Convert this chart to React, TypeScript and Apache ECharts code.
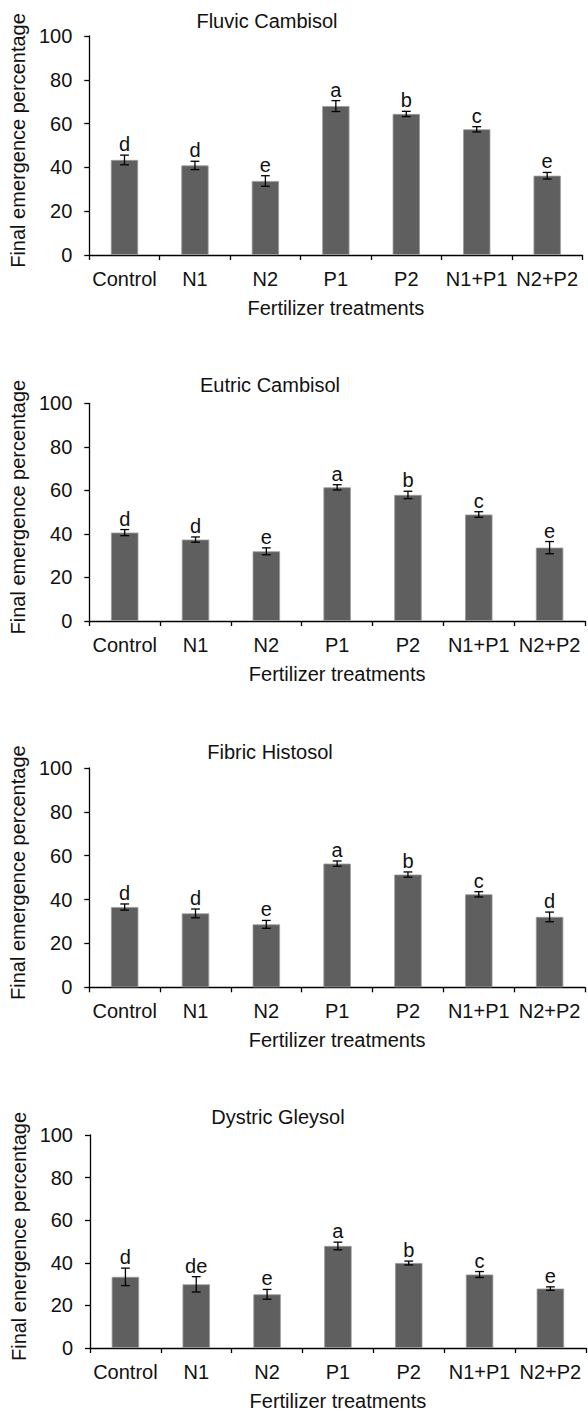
import React, { useEffect, useRef } from "react";
import * as echarts from "echarts";

const categories = ["Control", "N1", "N2", "P1", "P2", "N1+P1", "N2+P2"];
const panelTitles = ["Fluvic Cambisol", "Eutric Cambisol", "Fibric Histosol", "Dystric Gleysol"];
const yAxisNames = [
  "Final emergence percentage",
  "Final emergence percentage",
  "Final emergence percentage",
  "Final energence percentage",
];
const xAxisName = "Fertilizer treatments";
const yMin = 0;
const yMax = 100;
const yInterval = 20;

const fluvicMeans = [43.4, 40.9, 33.8, 68.0, 64.4, 57.4, 36.2];
const fluvicErrors = [2.2, 1.9, 2.4, 2.5, 1.2, 1.2, 1.5];
const fluvicLetters = ["d", "d", "e", "a", "b", "c", "e"];

const eutricMeans = [40.6, 37.4, 32.0, 61.4, 57.9, 48.9, 33.7];
const eutricErrors = [1.4, 1.2, 1.6, 1.2, 1.7, 1.3, 2.8];
const eutricLetters = ["d", "d", "e", "a", "b", "c", "e"];

const fibricMeans = [36.6, 33.7, 28.7, 56.4, 51.4, 42.4, 32.1];
const fibricErrors = [1.4, 2.0, 1.8, 1.2, 1.2, 1.2, 2.2];
const fibricLetters = ["d", "d", "e", "a", "b", "c", "d"];

const dystricMeans = [33.4, 29.9, 25.2, 47.9, 39.9, 34.5, 27.9];
const dystricErrors = [4.1, 3.6, 2.3, 1.8, 0.9, 1.4, 0.8];
const dystricLetters = ["d", "de", "e", "a", "b", "c", "e"];

const panels = [
  { means: fluvicMeans, errors: fluvicErrors, letters: fluvicLetters },
  { means: eutricMeans, errors: eutricErrors, letters: eutricLetters },
  { means: fibricMeans, errors: fibricErrors, letters: fibricLetters },
  { means: dystricMeans, errors: dystricErrors, letters: dystricLetters },
];

// layout (pixels)
const grids = [
  { left: 87.4, right: 5.6, top: 36, height: 219 },
  { left: 89.3, right: 3, top: 403.3, height: 217.7 },
  { left: 88.1, right: 3, top: 768, height: 219.3 },
  { left: 90, right: 2.2, top: 1135, height: 217.3 },
];
const titlePos = [
  { x: 267, y: 20.7 },
  { x: 270, y: 385 },
  { x: 270, y: 751.7 },
  { x: 278, y: 1116.7 },
];

const FONT = '"Liberation Sans", Arial, sans-serif';
const FS = 20;
const TEXT = "#111";
const BAR = "#5f5f5f";

export default function App() {
  const ref = useRef<HTMLDivElement>(null);

  useEffect(() => {
    if (!ref.current) return;
    const chart = echarts.init(ref.current, null, { renderer: "svg" });

    const xAxes: any[] = [];
    const yAxes: any[] = [];
    const series: any[] = [];

    panels.forEach((p, i) => {
      xAxes.push({
        gridIndex: i,
        type: "category",
        data: categories,
        boundaryGap: true,
        name: xAxisName,
        nameLocation: "middle",
        nameGap: 43,
        nameTextStyle: { fontFamily: FONT, fontSize: FS, color: TEXT },
        axisLine: { lineStyle: { color: "#000", width: 1.3 } },
        axisTick: { show: true, length: 5, lineStyle: { color: "#000", width: 1.3 } },
        axisLabel: { fontFamily: FONT, fontSize: FS, color: TEXT, margin: 14, interval: 0 },
        splitLine: { show: false },
      });
      yAxes.push({
        gridIndex: i,
        type: "value",
        min: yMin,
        max: yMax,
        interval: yInterval,
        name: yAxisNames[i],
        nameLocation: "middle",
        nameGap: 50,
        nameTextStyle: { fontFamily: FONT, fontSize: FS, color: TEXT, padding: [0, 0, 0, 10] },
        axisLine: { show: true, lineStyle: { color: "#000", width: 1.3 } },
        axisTick: { show: true, length: 5, lineStyle: { color: "#000", width: 1.3 } },
        axisLabel: { fontFamily: FONT, fontSize: FS, color: TEXT, margin: 17 },
        splitLine: { show: false },
      });
      series.push({
        type: "bar",
        xAxisIndex: i,
        yAxisIndex: i,
        data: p.means,
        barWidth: "38.7%",
        itemStyle: { color: BAR, borderColor: "#9a9a9a", borderWidth: 0.8 },
        silent: true,
      });
      const letters = p.letters;
      series.push({
        type: "custom",
        xAxisIndex: i,
        yAxisIndex: i,
        data: p.means.map((m, k) => [k, m, p.errors[k]]),
        renderItem: (params: any, api: any) => {
          const x = api.value(0);
          const m = api.value(1);
          const e = api.value(2);
          const top = api.coord([x, m + e]);
          const bot = api.coord([x, m - e]);
          const hw = 4.4;
          const ls = { stroke: "#000", lineWidth: 1.3 };
          return {
            type: "group",
            children: [
              { type: "line", shape: { x1: top[0], y1: top[1], x2: bot[0], y2: bot[1] }, style: ls },
              { type: "line", shape: { x1: top[0] - hw, y1: top[1], x2: top[0] + hw, y2: top[1] }, style: ls },
              { type: "line", shape: { x1: bot[0] - hw, y1: bot[1], x2: bot[0] + hw, y2: bot[1] }, style: ls },
              {
                type: "text",
                x: top[0],
                y: top[1] - 1,
                style: {
                  text: letters[params.dataIndex],
                  font: `${FS}px ${FONT}`,
                  fill: TEXT,
                  align: "center",
                  verticalAlign: "bottom",
                },
              },
            ],
          };
        },
        silent: true,
        z: 5,
      });
    });

    chart.setOption({
      animation: false,
      backgroundColor: "#fff",
      grid: grids.map((g) => ({ ...g, containLabel: false })),
      xAxis: xAxes,
      yAxis: yAxes,
      series,
      graphic: panelTitles.map((t, i) => ({
        type: "text",
        x: titlePos[i].x,
        y: titlePos[i].y,
        style: {
          text: t,
          font: `${FS}px ${FONT}`,
          fill: TEXT,
          align: "center",
          verticalAlign: "middle",
        },
      })),
    });

    return () => chart.dispose();
  }, []);

  return (
    <div
      ref={ref}
      style={{ position: "absolute", left: 0, top: 0, width: 588, height: 1412, background: "#fff" }}
    />
  );
}
